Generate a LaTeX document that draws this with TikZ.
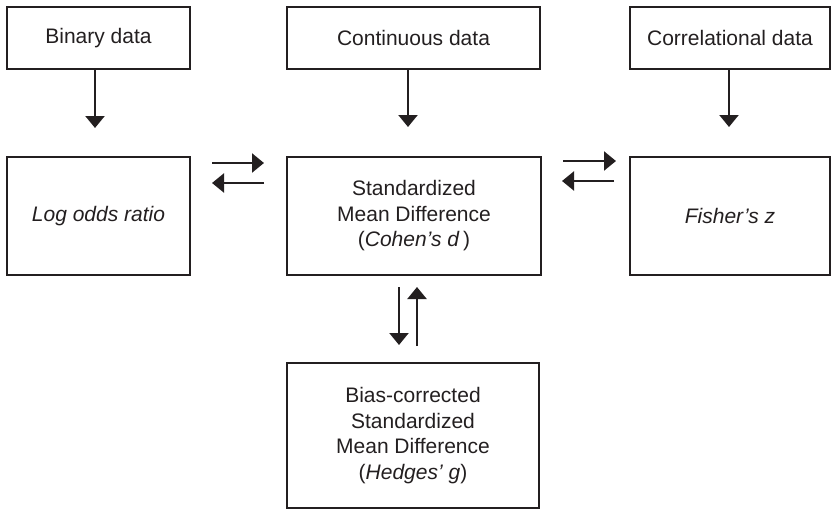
\documentclass[tikz,border=0pt]{standalone}
\usepackage{fontspec}
\setmainfont{Liberation Sans}
\usetikzlibrary{arrows.meta,calc}
\definecolor{ink}{HTML}{231F20}
\begin{document}
\begin{tikzpicture}[x=1pt,y=-1pt,
  box/.style={draw=ink, line width=2.6pt, inner sep=0pt, outer sep=0pt,
    align=center, text=ink, font=\fontsize{21}{25.5}\selectfont},
  arr/.style={draw=ink, line width=2.2pt, -{Triangle[length=12pt,width=19pt]}}]
\useasboundingbox (0,0) rectangle (832,511);
% top row
\node[box, minimum width=183pt, minimum height=62pt] (bin) at (98.5,38) {Binary data};
\node[box, minimum width=253pt, minimum height=62pt] (cont) at (413.5,38) {Continuous data};
\node[box, minimum width=200pt, minimum height=62pt] (corr) at (730,38) {Correlational data};
% middle row
\node[box, minimum width=183pt, minimum height=118pt] (lor) at (98.5,216) {\itshape Log odds ratio};
\node[box, minimum width=254pt, minimum height=118pt] (smd) at (414,216) {Standardized\\Mean Difference\\(\textit{Cohen’s d}\,)};
\node[box, minimum width=200pt, minimum height=118pt] (fz) at (730,216) {\itshape Fisher’s z};
% bottom
\node[box, minimum width=252pt, minimum height=145pt] (hg) at (413,435.5) {Bias-corrected\\Standardized\\Mean Difference\\(\textit{Hedges’ g})};
% vertical arrows from data boxes
\draw[arr] ($(bin.south)+(-3.5,0)$) -- ($(lor.north)+(-3.5,-29)$);
\draw[arr] ($(cont.south)+(-5.5,0)$) -- ($(smd.north)+(-6,-30)$);
\draw[arr] ($(corr.south)+(-1,0)$) -- ($(fz.north)+(-1,-30)$);
% left pair
\draw[arr] ($(lor.east)+(22,-53)$) -- ($(smd.west)+(-23,-53)$);
\draw[arr] ($(smd.west)+(-23,-33)$) -- ($(lor.east)+(22,-33)$);
% right pair
\draw[arr] ($(smd.east)+(22,-55)$) -- ($(fz.west)+(-14,-55)$);
\draw[arr] ($(fz.west)+(-16,-35)$) -- ($(smd.east)+(21,-35)$);
% bottom pair
\draw[arr] ($(smd.south)+(-15,12)$) -- ($(hg.north)+(-14,-18)$);
\draw[arr] ($(hg.north)+(4,-17)$) -- ($(smd.south)+(3,12)$);
\end{tikzpicture}
\end{document}
